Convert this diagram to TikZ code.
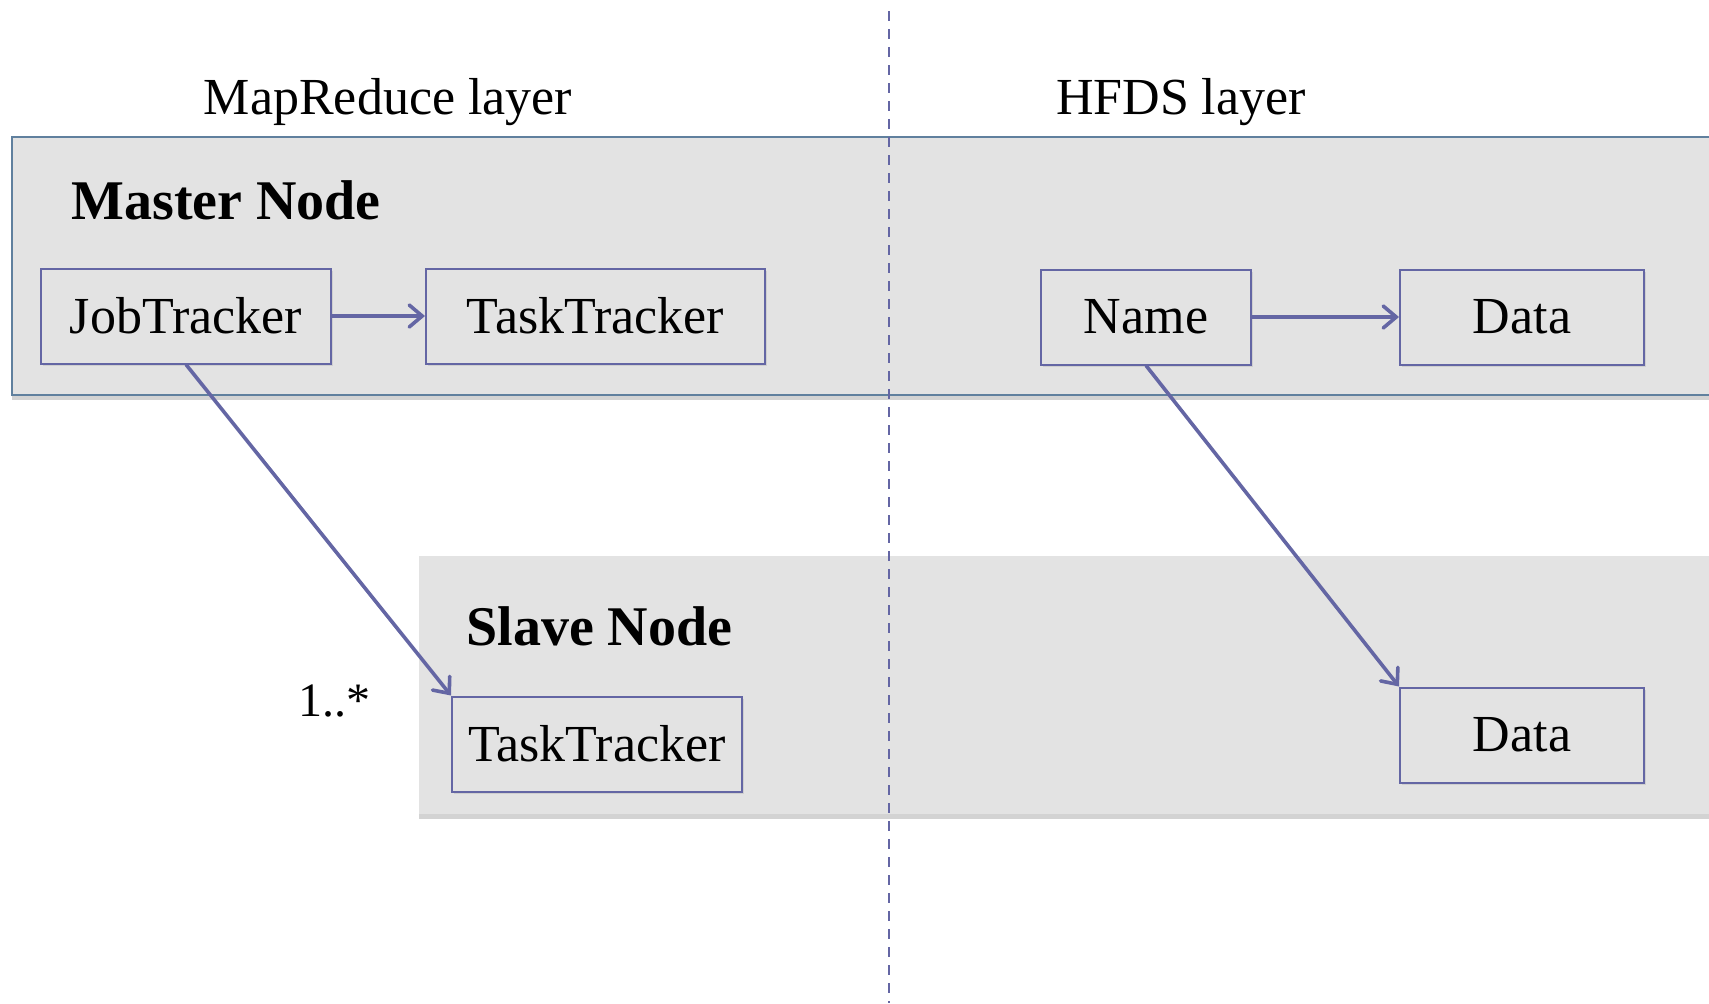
\documentclass[tikz,border=0pt]{standalone}
\usepackage{fontspec}
\setmainfont{Liberation Serif}
\usetikzlibrary{arrows.meta, shadows}
\definecolor{trackblue}{RGB}{100,102,164}
\definecolor{panelgray}{RGB}{227,227,227}
\definecolor{paneledge}{RGB}{96,128,158}

\begin{document}
\begin{tikzpicture}[x=0.5pt, y=-0.5pt,
    panel/.style={
      fill=panelgray,
      drop shadow={shadow xshift=0pt, shadow yshift=-2.5pt, opacity=0.35}
    },
    comp/.style={
      rectangle, draw=trackblue, line width=1pt, fill=panelgray,
      minimum height=47.5pt, inner sep=0pt,
      font=\fontsize{26}{30}\selectfont,
      drop shadow={shadow xshift=0.8pt, shadow yshift=-1.2pt, opacity=0.2}
    },
    title/.style={font=\fontsize{28}{32}\selectfont\bfseries, anchor=base west, inner sep=0pt},
    layer/.style={font=\fontsize{26}{30}\selectfont, anchor=base},
    divider/.style={trackblue, line width=1pt, dash pattern=on 5pt off 4pt},
    arr/.style={-{Straight Barb[length=6.5pt,width=11pt,line cap=round]}, line width=1.8pt, color=trackblue}
]
  \useasboundingbox (0,0) rectangle (1709,1003);

  % master and slave panels
  \path[panel, draw=paneledge, line width=0.8pt] (12,137) rectangle (1720,395);
  \path[panel] (419,556) rectangle (1720,814);

  % divider between the two layers
  \coordinate (divtop) at (889,11);
  \coordinate (divbot) at (889,1003);
  \draw[divider] (divtop) -- (divbot);

  \node[layer] (mrlayer) at (388,114) {MapReduce layer};
  \node[layer] (hdlayer) at (1181,114) {HFDS layer};

  \node[title] (mastertitle) at (71,219) {Master Node};
  \node[title] (slavetitle)  at (466,645) {Slave Node};

  \node[comp, minimum width=145pt]   (job)   at (186,316)  {JobTracker};
  \node[comp, minimum width=169.5pt] (mtask) at (595.5,316) {TaskTracker};
  \node[comp, minimum width=105pt]   (name)  at (1146,317) {Name};
  \node[comp, minimum width=122pt]   (mdata) at (1522,317) {Data};
  \node[comp, minimum width=145pt]   (stask) at (597,744)  {TaskTracker};
  \node[comp, minimum width=122pt]   (sdata) at (1522,735) {Data};

  \node[font=\fontsize{24}{28}\selectfont, anchor=base west, inner sep=0pt] (mult) at (298,716) {1..*};

  \draw[arr] (job.east) -- (mtask.west);
  \draw[arr] (name.east) -- (mdata.west);
  \draw[arr] (job.south) -- (stask.north west);
  \draw[arr] (name.south) -- (sdata.north west);
\end{tikzpicture}
\end{document}
